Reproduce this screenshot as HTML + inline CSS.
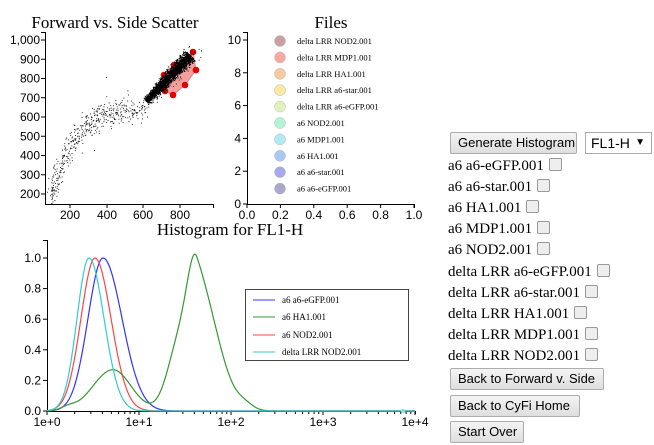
<!DOCTYPE html>
<html><head><meta charset="utf-8"><style>
body{margin:0;background:#fff;width:654px;height:445px;overflow:hidden;position:relative;font-family:"Liberation Serif",serif}
svg{position:absolute;left:0;top:0}
.t{font-family:"Liberation Sans",sans-serif;font-size:12px;fill:#000}
.btn{position:absolute;left:450px;height:22px;border:1px solid #adadad;background:linear-gradient(#f4f4f4,#dedede);border-radius:2px;font-family:"Liberation Sans",sans-serif;font-size:13px;line-height:20px;padding:0 7px;box-sizing:border-box;color:#000;white-space:nowrap;overflow:hidden}
.row{position:absolute;left:448px;font-size:15px;line-height:18px;white-space:nowrap}
.cb{display:inline-block;width:11px;height:11px;border:1px solid #999;border-radius:2px;background:#eee;margin-left:5px;vertical-align:-1px}
</style></head><body>
<svg width="654" height="445" id="s" xmlns="http://www.w3.org/2000/svg">
<g font-family="Liberation Serif,serif" font-size="17" text-anchor="middle">
<text x="115" y="28">Forward vs. Side Scatter</text>
<text x="331" y="28">Files</text>
<text x="230" y="235">Histogram for FL1-H</text>
</g>
<g stroke="#000" fill="none" stroke-width="1">
<path d="M41,32.5H45.5V204.5H213.5V208"/>
<path d="M243,32.5H247.5V204.5H414.5V208"/>
<path d="M43,240.5H47.5V411.5H415.5V414"/>
</g>
<g id="ax" class="t"></g>
<g id="pts" fill="#000"></g>
<polygon points="193,52 196,70 185,85 173,95 165,91 164,75 174,65" fill="#f08080" fill-opacity="0.75" stroke="#f08080"/>
<g fill="#e00000"><circle cx="193" cy="52" r="3.3"/><circle cx="196" cy="70" r="3.3"/><circle cx="185" cy="85" r="3.3"/><circle cx="173" cy="95" r="3.3"/><circle cx="165" cy="91" r="3.3"/><circle cx="164" cy="75" r="3.3"/><circle cx="174" cy="65" r="3.3"/></g>
<g id="dense" fill="#000"></g>
<g id="files" font-family="Liberation Serif,serif" font-size="8.5"></g>
<g id="curves" fill="none" stroke-width="1.2"></g>
<rect x="245.5" y="289.5" width="163" height="71" fill="#fff" stroke="#444"/>
<g font-family="Liberation Serif,serif" font-size="9">
<line x1="253" x2="275" y1="300" y2="300" stroke="#3333ff"/><text x="282" y="303">a6 a6-eGFP.001</text>
<line x1="253" x2="275" y1="317" y2="317" stroke="#339933"/><text x="282" y="320">a6 HA1.001</text>
<line x1="253" x2="275" y1="335" y2="335" stroke="#ff4444"/><text x="282" y="338">a6 NOD2.001</text>
<line x1="253" x2="275" y1="352" y2="352" stroke="#33cccc"/><text x="282" y="355">delta LRR NOD2.001</text>
</g>
<circle cx="403" cy="411" r="2" fill="#8dd"/>
</svg>
<div class="btn" style="top:132px;width:127px">Generate Histogram</div>
<div style="position:absolute;left:585px;top:132px;width:67px;height:22px;border:1px solid #aaa;box-sizing:border-box;font-family:'Liberation Sans',sans-serif;font-size:14px;line-height:20px;padding-left:5px">FL1-H<span style="position:absolute;right:6px;font-size:10px">▼</span></div>
<div id="rows"></div>
<div class="btn" style="top:368px;width:154px">Back to Forward v. Side</div>
<div class="btn" style="top:395px;width:130px">Back to CyFi Home</div>
<div class="btn" style="top:421px;width:74px">Start Over</div>
<script>
var NS="http://www.w3.org/2000/svg";
function el(p,n,a,t){var e=document.createElementNS(NS,n);for(var k in a)e.setAttribute(k,a[k]);if(t!=null)e.textContent=t;document.getElementById(p).appendChild(e);return e;}
var yl=["1,000","900","800","700","600","500","400","300","200"];
for(var i=0;i<9;i++){var y=40+i*19.25;el("ax","text",{x:40,y:y+4,"text-anchor":"end"},yl[i]);el("ax","line",{x1:41,x2:45,y1:y,y2:y,stroke:"#000"});}
[[200,70],[400,107],[600,143],[800,180]].forEach(function(a){el("ax","text",{x:a[1],y:219,"text-anchor":"middle"},a[0]);el("ax","line",{x1:a[1],x2:a[1],y1:204,y2:208,stroke:"#000"});});
for(var i=0;i<=5;i++){var y=204-i*32.8;el("ax","text",{x:241,y:y+4,"text-anchor":"end"},i*2);el("ax","line",{x1:243,x2:247,y1:y,y2:y,stroke:"#000"});
var x=247+i*33.4;el("ax","text",{x:x,y:219,"text-anchor":"middle"},(i*0.2).toFixed(1));el("ax","line",{x1:x,x2:x,y1:204,y2:208,stroke:"#000"});}
for(var i=0;i<=5;i++){var y=411-i*30.6;el("ax","text",{x:41,y:y+4,"text-anchor":"end"},(i*0.2).toFixed(1));el("ax","line",{x1:43,x2:47,y1:y,y2:y,stroke:"#000"});}
["1e+0","1e+1","1e+2","1e+3","1e+4"].forEach(function(s,i){var x=47+i*92;el("ax","text",{x:x,y:426,"text-anchor":"middle"},s);el("ax","line",{x1:x,x2:x,y1:411,y2:415,stroke:"#000"});
if(i<4)for(var k=2;k<10;k++){var xx=x+92*Math.log10(k);el("ax","line",{x1:xx,x2:xx,y1:411,y2:414,stroke:"#000"});}});
var sd=7;function r(){sd=(sd*16807)%2147483647;return sd/2147483647;}
function g(){return (r()+r()+r()+r()-2)*1.73;}
function X(v){return 70+(v-200)*0.183;}function Y(v){return 194-(v-200)*0.1925;}
for(var i=0;i<420;i++){var t=Math.pow(r(),1.6);var fx=100+t*500;var fy=650-450*Math.exp(-(fx-100)/120)+g()*30;
el("pts","rect",{x:X(fx+g()*15).toFixed(1),y:Y(fy).toFixed(1),width:0.9,height:0.9});}
for(var i=0;i<40;i++){var fx=120+r()*500;el("pts","rect",{x:X(fx).toFixed(1),y:Y(650-450*Math.exp(-(fx-100)/120)+g()*70).toFixed(1),width:0.9,height:0.9});}
for(var i=0;i<1800;i++){var t=r();t=0.12+0.88*Math.pow(t,0.9);var fx=582+t*274,fy=652+t*270;var d=g()*(1.0+1.4*t);
el("dense","rect",{x:(X(fx)+d).toFixed(1),y:(Y(fy)+d).toFixed(1),width:1.1,height:1.1});}
for(var i=0;i<120;i++){var t=r();el("dense","rect",{x:(X(590+t*300)+g()*4).toFixed(1),y:(Y(640+t*300)+g()*4).toFixed(1),width:0.9,height:0.9});}
var fl=[["delta LRR NOD2.001","#c9a0a0"],["delta LRR MDP1.001","#f7a9a0"],["delta LRR HA1.001","#f8c8a0"],["delta LRR a6-star.001","#f8eaa0"],["delta LRR a6-eGFP.001","#def2b8"],["a6 NOD2.001","#b4f2d4"],["a6 MDP1.001","#b0eaf4"],["a6 HA1.001","#a8c8f4"],["a6 a6-star.001","#a8a8f0"],["a6 a6-eGFP.001","#a8a8cc"]];
fl.forEach(function(f,i){var y=41+i*16.4;el("files","circle",{cx:280,cy:y,r:5.5,fill:f[1],stroke:"#bbb","stroke-width":0.5});el("files","text",{x:297,y:y+3},f[0]);});
function sk(x,c,sl,sr){var s=x<c?sl:sr;return Math.exp(-(x-c)*(x-c)/(2*s*s));}
function path(f,col){var d="";for(var x=47;x<=415;x+=1){var y=411-153*f(x);d+=(x==47?"M":"L")+x+","+y.toFixed(1);}el("curves","path",{d:d,stroke:col});}
path(function(x){return sk(x,103,15,19);},"#3333ff");
path(function(x){return sk(x,95,14,16);},"#ff4444");
path(function(x){return 0.27*sk(x,113,20,18)+0.45*sk(x,180,12,12)+0.84*sk(x,197,9,20)+0.03*sk(x,245,8,8)+0.02*sk(x,68,7,7);},"#339933");
path(function(x){return sk(x,89,12,15);},"#33cccc");
var rows=["a6 a6-eGFP.001","a6 a6-star.001","a6 HA1.001","a6 MDP1.001","a6 NOD2.001","delta LRR a6-eGFP.001","delta LRR a6-star.001","delta LRR HA1.001","delta LRR MDP1.001","delta LRR NOD2.001"];
var h="";rows.forEach(function(s,i){h+='<div class="row" style="top:'+(157+i*21.1).toFixed(1)+'px">'+s+'<span class="cb"></span></div>';});
document.getElementById("rows").innerHTML=h;
</script>
</body></html>
